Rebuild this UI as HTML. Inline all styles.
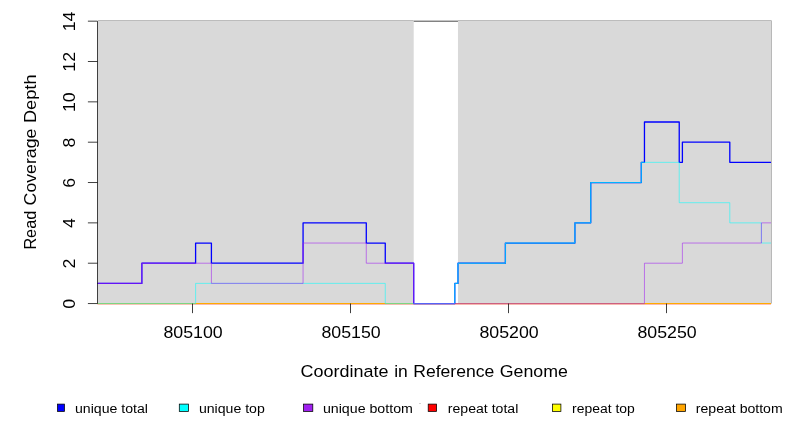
<!DOCTYPE html>
<html><head><meta charset="utf-8"><title>Read Coverage</title>
<style>html,body{margin:0;padding:0;background:#fff;}body{width:792px;height:432px;overflow:hidden;}</style>
</head><body>
<svg width="792" height="432" viewBox="0 0 792 432" style="display:block;will-change:transform;font-family:'Liberation Sans',sans-serif">
<rect x="98" y="20" width="315.71" height="1" fill="#bcbcbc"/>
<rect x="457.96" y="20" width="313.44" height="1" fill="#bcbcbc"/>
<rect x="98" y="21" width="315.71" height="282.5" fill="#d9d9d9"/>
<rect x="457.96" y="21" width="313.04" height="282.5" fill="#d9d9d9"/>
<rect x="771" y="20.6" width="1" height="283" fill="#b8b8b8"/>
<rect x="413.71" y="20" width="44.25" height="1" fill="#c4c4c4"/>
<rect x="413.71" y="21" width="44.25" height="1" fill="#828282"/>
<path d="M192.5,303.55 H666.5" stroke="#000" stroke-width="0.75" fill="none"/>
<path d="M97.5,303.55 L771.0,303.55" fill="none" stroke="#ff0000" stroke-width="1.2" stroke-opacity="1" stroke-linejoin="round" stroke-linecap="butt"/>
<path d="M97.5,303.55 L771.0,303.55" fill="none" stroke="#ffff00" stroke-width="0.75" stroke-opacity="1" stroke-linejoin="round" stroke-linecap="butt"/>
<path d="M97.5,303.55 L771.0,303.55" fill="none" stroke="#ffa500" stroke-width="0.75" stroke-opacity="1" stroke-linejoin="round" stroke-linecap="butt"/>
<path d="M97.5,283.38 L141.86,283.38 L141.86,263.21 L195.6,263.21 L195.6,243.04 L211.41,243.04 L211.41,263.21 L303.07,263.21 L303.07,222.87 L366.29,222.87 L366.29,243.04 L385.26,243.04 L385.26,263.21 L413.71,263.21 L413.71,303.55 L454.8,303.55 L454.8,283.38 L457.96,283.38 L457.96,263.21 L505.38,263.21 L505.38,243.04 L574.92,243.04 L574.92,222.87 L590.73,222.87 L590.73,182.53 L641.3,182.53 L641.3,162.36 L644.46,162.36 L644.46,122.02 L679.23,122.02 L679.23,162.36 L682.39,162.36 L682.39,142.19 L729.81,142.19 L729.81,162.36 L771.0,162.36" fill="none" stroke="#0000ff" stroke-width="1.3" stroke-opacity="1" stroke-linejoin="round" stroke-linecap="butt"/>
<path d="M97.5,303.55 L195.6,303.55 L195.6,283.38 L385.26,283.38 L385.26,303.55 L454.8,303.55 L454.8,283.38 L457.96,283.38 L457.96,263.21 L505.38,263.21 L505.38,243.04 L574.92,243.04 L574.92,222.87 L590.73,222.87 L590.73,182.53 L641.3,182.53 L641.3,162.36 L679.23,162.36 L679.23,202.7 L729.81,202.7 L729.81,222.87 L761.42,222.87 L761.42,243.04 L771.0,243.04" fill="none" stroke="#00ffff" stroke-width="0.75" stroke-opacity="0.72" stroke-linejoin="round" stroke-linecap="butt"/>
<path d="M413.71,303.55 L454.8,303.55 L454.8,283.38 L457.96,283.38 L457.96,263.21 L505.38,263.21 L505.38,243.04 L574.92,243.04 L574.92,222.87 L590.73,222.87 L590.73,182.53 L641.3,182.53 L641.3,162.36 L644.46,162.36" fill="none" stroke="#00ffff" stroke-width="0.75" stroke-opacity="0.5" stroke-linejoin="round" stroke-linecap="butt"/>
<path d="M97.5,283.38 L141.86,283.38 L141.86,263.21 L211.41,263.21 L211.41,283.38 L303.07,283.38 L303.07,243.04 L366.29,243.04 L366.29,263.21 L413.71,263.21 L413.71,303.55 L644.46,303.55 L644.46,263.21 L682.39,263.21 L682.39,243.04 L761.42,243.04 L761.42,222.87 L771.0,222.87" fill="none" stroke="#a020f0" stroke-width="0.75" stroke-opacity="0.75" stroke-linejoin="round" stroke-linecap="butt"/>
<path d="M97.5,283.38 L141.86,283.38 L141.86,263.21 L195.6,263.21" fill="none" stroke="#a020f0" stroke-width="0.75" stroke-opacity="0.4" stroke-linejoin="round" stroke-linecap="butt"/>
<path d="M303.07,263.21 L303.07,243.04" fill="none" stroke="#a020f0" stroke-width="0.75" stroke-opacity="0.4" stroke-linejoin="round" stroke-linecap="butt"/>
<path d="M385.26,263.21 L413.71,263.21 L413.71,303.55" fill="none" stroke="#a020f0" stroke-width="0.75" stroke-opacity="0.4" stroke-linejoin="round" stroke-linecap="butt"/>
<path d="M97.5,21.17 V303.55" stroke="#000" stroke-width="0.75" fill="none"/>
<path d="M97.5,303.55 H87.9" stroke="#000" stroke-width="0.75" fill="none"/>
<path d="M97.5,263.21 H87.9" stroke="#000" stroke-width="0.75" fill="none"/>
<path d="M97.5,222.87 H87.9" stroke="#000" stroke-width="0.75" fill="none"/>
<path d="M97.5,182.53 H87.9" stroke="#000" stroke-width="0.75" fill="none"/>
<path d="M97.5,142.19 H87.9" stroke="#000" stroke-width="0.75" fill="none"/>
<path d="M97.5,101.85 H87.9" stroke="#000" stroke-width="0.75" fill="none"/>
<path d="M97.5,61.51 H87.9" stroke="#000" stroke-width="0.75" fill="none"/>
<path d="M97.5,21.17 H87.9" stroke="#000" stroke-width="0.75" fill="none"/>
<path d="M192.5,303.55 v9.6" stroke="#000" stroke-width="0.75" fill="none"/>
<text x="193.1" y="338.4" font-size="16.3" text-anchor="middle" textLength="59.3" lengthAdjust="spacingAndGlyphs">805100</text>
<path d="M350.5,303.55 v9.6" stroke="#000" stroke-width="0.75" fill="none"/>
<text x="351.1" y="338.4" font-size="16.3" text-anchor="middle" textLength="59.3" lengthAdjust="spacingAndGlyphs">805150</text>
<path d="M508.5,303.55 v9.6" stroke="#000" stroke-width="0.75" fill="none"/>
<text x="509.1" y="338.4" font-size="16.3" text-anchor="middle" textLength="59.3" lengthAdjust="spacingAndGlyphs">805200</text>
<path d="M666.5,303.55 v9.6" stroke="#000" stroke-width="0.75" fill="none"/>
<text x="667.1" y="338.4" font-size="16.3" text-anchor="middle" textLength="59.3" lengthAdjust="spacingAndGlyphs">805250</text>
<text transform="translate(74.7,303.85) rotate(-90)" font-size="16.3" text-anchor="middle" textLength="9.9" lengthAdjust="spacingAndGlyphs">0</text>
<text transform="translate(74.7,263.51) rotate(-90)" font-size="16.3" text-anchor="middle" textLength="9.9" lengthAdjust="spacingAndGlyphs">2</text>
<text transform="translate(74.7,223.17000000000002) rotate(-90)" font-size="16.3" text-anchor="middle" textLength="9.9" lengthAdjust="spacingAndGlyphs">4</text>
<text transform="translate(74.7,182.83) rotate(-90)" font-size="16.3" text-anchor="middle" textLength="9.9" lengthAdjust="spacingAndGlyphs">6</text>
<text transform="translate(74.7,142.49) rotate(-90)" font-size="16.3" text-anchor="middle" textLength="9.9" lengthAdjust="spacingAndGlyphs">8</text>
<text transform="translate(74.7,102.14999999999999) rotate(-90)" font-size="16.3" text-anchor="middle" textLength="19.8" lengthAdjust="spacingAndGlyphs">10</text>
<text transform="translate(74.7,61.809999999999995) rotate(-90)" font-size="16.3" text-anchor="middle" textLength="19.8" lengthAdjust="spacingAndGlyphs">12</text>
<text transform="translate(74.7,21.470000000000002) rotate(-90)" font-size="16.3" text-anchor="middle" textLength="19.8" lengthAdjust="spacingAndGlyphs">14</text>
<text x="300.60" y="376.7" font-size="16.3" textLength="87.80" lengthAdjust="spacingAndGlyphs">Coordinate</text>
<text x="394.20" y="376.7" font-size="16.3" textLength="13.60" lengthAdjust="spacingAndGlyphs">in</text>
<text x="413.20" y="376.7" font-size="16.3" textLength="81.10" lengthAdjust="spacingAndGlyphs">Reference</text>
<text x="499.80" y="376.7" font-size="16.3" textLength="68.10" lengthAdjust="spacingAndGlyphs">Genome</text>
<text transform="translate(36.4,249.60) rotate(-90)" font-size="16.3" textLength="38.80" lengthAdjust="spacingAndGlyphs">Read</text>
<text transform="translate(36.4,205.40) rotate(-90)" font-size="16.3" textLength="76.80" lengthAdjust="spacingAndGlyphs">Coverage</text>
<text transform="translate(36.4,123.10) rotate(-90)" font-size="16.3" textLength="48.70" lengthAdjust="spacingAndGlyphs">Depth</text>
<rect x="419" y="403" width="2" height="1" fill="#d4d4d4"/>
<rect x="57.50" y="404.1" width="6.95" height="7.3" fill="#0000ff" stroke="#000" stroke-width="0.75"/>
<text x="75.00" y="413" font-size="12.3" textLength="73.0" lengthAdjust="spacingAndGlyphs">unique total</text>
<rect x="179.30" y="404.1" width="9.20" height="7.3" fill="#00ffff" stroke="#000" stroke-width="0.75"/>
<text x="198.90" y="413" font-size="12.3" textLength="65.9" lengthAdjust="spacingAndGlyphs">unique top</text>
<rect x="303.60" y="404.1" width="9.20" height="7.3" fill="#a020f0" stroke="#000" stroke-width="0.75"/>
<text x="322.90" y="413" font-size="12.3" textLength="90.0" lengthAdjust="spacingAndGlyphs">unique bottom</text>
<rect x="428.20" y="404.1" width="8.40" height="7.3" fill="#ff0000" stroke="#000" stroke-width="0.75"/>
<text x="447.80" y="413" font-size="12.3" textLength="70.5" lengthAdjust="spacingAndGlyphs">repeat total</text>
<rect x="552.40" y="404.1" width="8.50" height="7.3" fill="#ffff00" stroke="#000" stroke-width="0.75"/>
<text x="572.10" y="413" font-size="12.3" textLength="62.7" lengthAdjust="spacingAndGlyphs">repeat top</text>
<rect x="676.50" y="404.1" width="9.00" height="7.3" fill="#ffa500" stroke="#000" stroke-width="0.75"/>
<text x="695.80" y="413" font-size="12.3" textLength="86.9" lengthAdjust="spacingAndGlyphs">repeat bottom</text>
</svg>
</body></html>
